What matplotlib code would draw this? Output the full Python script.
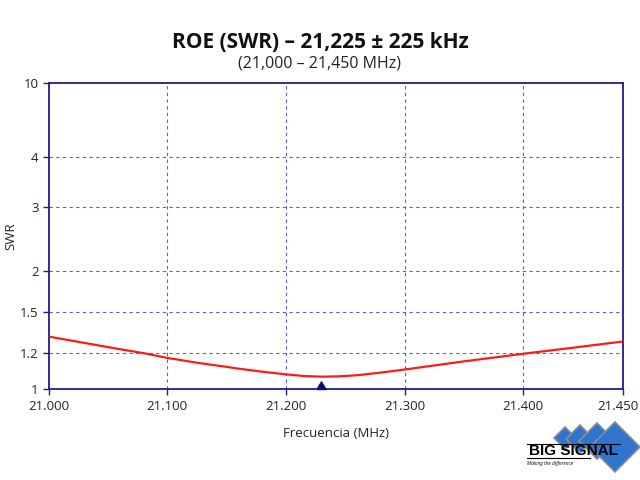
import numpy as np
import matplotlib
matplotlib.use('Agg')
import matplotlib.pyplot as plt
import matplotlib.transforms as mtransforms
from matplotlib.patches import Polygon

plt.rcParams['font.family'] = ['Open Sans', 'DejaVu Sans']

# measured SWR curve
freq = [21.000, 21.020, 21.040, 21.060, 21.081, 21.100, 21.125, 21.150, 21.160, 21.180,
        21.200, 21.215, 21.230, 21.245, 21.260, 21.280, 21.300, 21.330, 21.350, 21.375,
        21.400, 21.425, 21.450]
swr  = [1.320,  1.290,  1.260,  1.230,  1.200,  1.175,  1.148,  1.125,  1.115,  1.098,
        1.083,  1.074,  1.070,  1.072,  1.078,  1.093,  1.110,  1.137,  1.155,  1.176,
        1.197,  1.240,  1.285]
f_min, swr_min = 21.230, 1.0

yticks = [1, 1.2, 1.5, 2, 3, 4, 10]
ypos = [0, 0.1174, 0.2531, 0.3858, 0.5956, 0.7586, 1.0]
xticks = [21.000, 21.100, 21.200, 21.300, 21.400, 21.450]
xpos = [0, 0.2049, 0.4122, 0.6202, 0.8254, 1.0]

navy = '#1e1e8a'
gridc = '#5c5cd6'

fig = plt.figure(figsize=(6.4, 4.8), dpi=100)
ax = fig.add_axes([0.0766, 0.189, 0.8966, 0.6387])

ax.set_yscale('function', functions=(lambda v: np.interp(v, yticks, ypos),
                                     lambda p: np.interp(p, ypos, yticks)))
ax.set_xscale('function', functions=(lambda v: np.interp(v, xticks, xpos),
                                     lambda p: np.interp(p, xpos, xticks)))
ax.set_ylim(1, 10)
ax.set_xlim(21.0, 21.45)

ax.plot(freq, swr, color='#ff1a1a', lw=1.6, zorder=3)
tri = [(-1, 0), (1, 0), (0, 1.7), (-1, 0)]
ax.plot([f_min], [swr_min], marker=tri, ms=11, color='#0a0a70', clip_on=False, zorder=5, ls='none')

ax.set_yticks(yticks)
ax.set_yticklabels(['1', '1.2', '1.5', '2', '3', '4', '10'])
ax.set_xticks(xticks)
ax.set_xticklabels(['%.3f' % v for v in xticks])
ax.minorticks_off()
ax.tick_params(colors=navy, labelcolor='#222222', labelsize=9.5, length=4, width=1, direction='out')
# keep the last label inside the picture
last = ax.get_xticklabels()[-1]
last.set_horizontalalignment('right')
last.set_transform(last.get_transform() + mtransforms.ScaledTranslation(16 / 100, 0, fig.dpi_scale_trans))

for v in yticks[1:-1]:
    ax.axhline(v, color=gridc, lw=0.8, ls=(0, (3, 3)), zorder=1)
for v in xticks[1:-1]:
    ax.axvline(v, color=gridc, lw=0.8, ls=(0, (3, 3)), zorder=1)
for s in ax.spines.values():
    s.set_color(navy)
    s.set_linewidth(1.3)

ax.set_ylabel('SWR', fontsize=9.5, color='#222222')
ax.yaxis.set_label_coords(-0.056, 0.5)
ax.set_xlabel('Frecuencia (MHz)', fontsize=9.5, color='#222222', labelpad=10)

fig.text(0.5, 1 - 42 / 480, 'ROE (SWR) \u2013 21,225 \u00b1 225 kHz', ha='center', va='center',
         fontsize=15, fontweight='bold', color='#111111')
fig.text(0.5, 1 - 63 / 480, '(21,000 \u2013 21,450 MHz)', ha='center', va='center',
         fontsize=11.5, color='#222222')

# BIG SIGNAL logo, pixel coords
def px(x, y):
    return (x / 640, 1 - y / 480)

for cx, cy, h in [(565, 438, 11), (580, 439, 14), (597, 441, 18), (615, 447, 25)]:
    pts = [px(cx, cy - h), px(cx + h, cy), px(cx, cy + h), px(cx - h, cy)]
    fig.patches.append(Polygon(pts, closed=True, transform=fig.transFigure,
                               facecolor='#2f74d0', edgecolor='#8c8c8c', lw=1.2))
fig.add_artist(plt.Line2D([527 / 640, 620 / 640], [1 - 444 / 480] * 2, color='black', lw=0.8))
fig.add_artist(plt.Line2D([527 / 640, 590 / 640], [1 - 458 / 480] * 2, color='black', lw=0.8))
fig.text(573 / 640, 1 - 451 / 480, 'BIG SIGNAL', ha='center', va='center', fontsize=11,
         fontweight='bold', family='Liberation Sans', color='black')
fig.text(527 / 640, 1 - 463 / 480, 'Making the difference', ha='left', va='center', fontsize=3.5,
         style='italic', color='black')

fig.savefig('out.png', dpi=100, facecolor='white')
